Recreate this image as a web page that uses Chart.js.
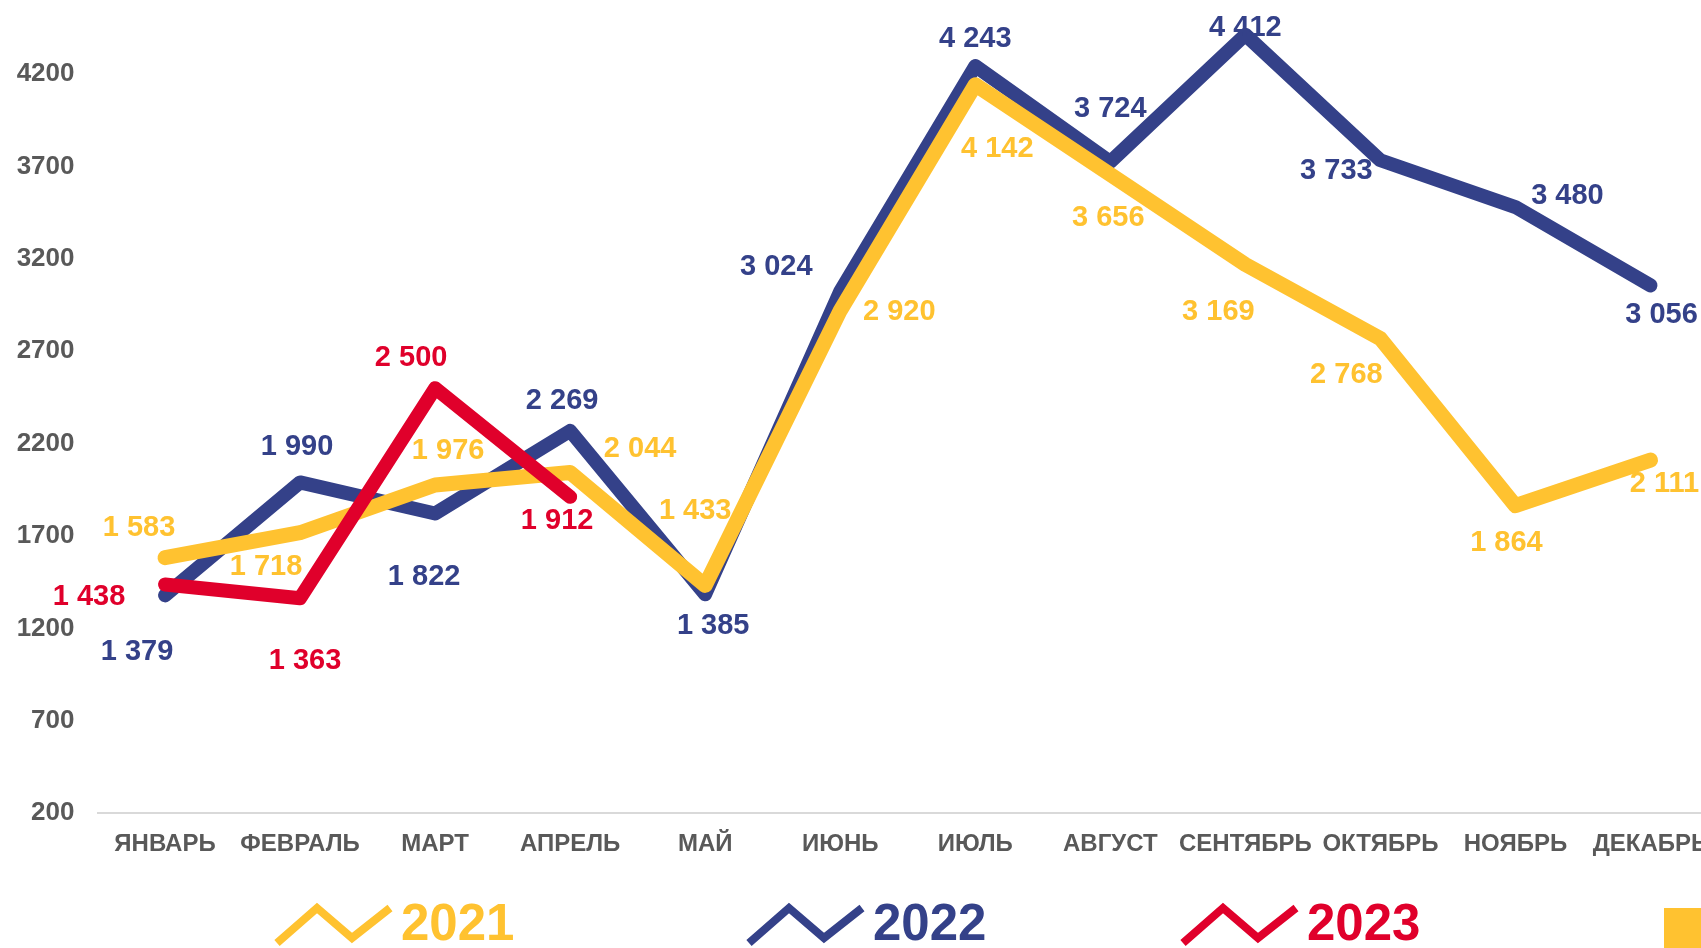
<!DOCTYPE html>
<html>
<head>
<meta charset="utf-8">
<script src="https://cdn.jsdelivr.net/npm/chart.js@4"></script>
<style>
    html, body { margin: 0; padding: 0; background: #fff; overflow: hidden; }
    #wrap { width: 1720px; height: 948px; }
</style>
</head>
<body>
<div id="wrap"><canvas id="prodazhi" width="1720" height="948"></canvas></div>
<script>
const months = ["ЯНВАРЬ", "ФЕВРАЛЬ", "МАРТ", "АПРЕЛЬ", "МАЙ", "ИЮНЬ", "ИЮЛЬ", "АВГУСТ", "СЕНТЯБРЬ", "ОКТЯБРЬ", "НОЯБРЬ", "ДЕКАБРЬ"];
const years = ["2021", "2022", "2023"];
const werte2021 = [1583, 1718, 1976, 2044, 1433, 2920, 4142, 3656, 3169, 2768, 1864, 2111];
const werte2022 = [1379, 1990, 1822, 2269, 1385, 3024, 4243, 3724, 4412, 3733, 3480, 3056];
const werte2023 = [1438, 1363, 2500, 1912];
const yTicks = [200, 700, 1200, 1700, 2200, 2700, 3200, 3700, 4200];

// wo die Werte-Beschriftung relativ zum Punkt sitzt (dx, dy in px)
const lage2021 = [[-26, -31], [-34, 33], [13, -35], [70, -24], [-10, -75], [59, 0], [22, 63], [-2, 43], [-27, 46], [-34, 35], [-9, 36], [14, 23]];
const lage2022 = [[-28, 56], [-3, -36], [-11, 63], [-8, -31], [8, 31], [-64, -25], [0, -28], [0, -54], [0, -8], [-44, 10], [52, -12], [11, 29]];
const lage2023 = [[-76, 12], [5, 62], [-24, -31], [-13, 23]];

const gelb = "#FFC230";
const blau = "#344189";
const rot = "#E0002B";
const grau = "#595959";
const schrift = "'Liberation Sans', Arial, sans-serif";

function tausender(v) {
    return String(v).replace(/\B(?=(\d{3})+(?!\d))/g, " ");
}

const werteLabels = {
    id: "werteLabels",
    afterDatasetsDraw(chart) {
        const ctx = chart.ctx;
        ctx.save();
        ctx.font = "bold 29px " + schrift;
        ctx.textAlign = "center";
        ctx.textBaseline = "middle";
        chart.data.datasets.forEach((ds, i) => {
            const meta = chart.getDatasetMeta(i);
            meta.data.forEach((pt, j) => {
                const off = ds.lage[j];
                ctx.fillStyle = ds.borderColor;
                ctx.fillText(tausender(ds.data[j]), pt.x + off[0], pt.y + off[1] + 1);
            });
        });
        ctx.restore();
    },
};

// Legende unten: Zickzack + Jahreszahl
const legendePos = [277, 749, 1183];
const zickzack = {
    id: "zickzack",
    afterDraw(chart) {
        const ctx = chart.ctx;
        ctx.save();
        chart.data.datasets.forEach((ds, i) => {
            const x0 = legendePos[i];
            ctx.strokeStyle = ds.borderColor;
            ctx.lineWidth = 8;
            ctx.lineJoin = "miter";
            ctx.beginPath();
            ctx.moveTo(x0, 943);
            ctx.lineTo(x0 + 40, 908);
            ctx.lineTo(x0 + 75, 938);
            ctx.lineTo(x0 + 113, 908);
            ctx.stroke();
            ctx.fillStyle = ds.borderColor;
            ctx.font = "bold 51px " + schrift;
            ctx.textAlign = "left";
            ctx.textBaseline = "alphabetic";
            ctx.fillText(ds.label, x0 + 124, 940);
        });
        // gelbes Quadrat rechts unten
        ctx.fillStyle = gelb;
        ctx.fillRect(1664, 908, 60, 40);
        ctx.restore();
    },
};

function linie(label, data, farbe, lage, order, breite) {
    return {
        label: label,
        data: data,
        lage: lage,
        order: order,
        borderColor: farbe,
        backgroundColor: farbe,
        borderWidth: breite,
        borderCapStyle: "round",
        borderJoinStyle: "round",
        pointRadius: 0,
        tension: 0,
        clip: false,
    };
}

new Chart(document.getElementById("prodazhi"), {
    type: "line",
    data: {
        labels: months,
        datasets: [
            linie(years[0], werte2021, gelb, lage2021, 2, 15),
            linie(years[1], werte2022, blau, lage2022, 3, 14),
            linie(years[2], werte2023, rot, lage2023, 1, 14),
        ],
    },
    options: {
        responsive: false,
        animation: false,
        layout: { padding: { top: 0, right: 2, left: 0, bottom: 0 } },
        plugins: {
            legend: { display: false },
            tooltip: { enabled: false },
        },
        scales: {
            x: {
                offset: true,
                grid: { display: false, drawTicks: false },
                border: { display: true, color: "#D9D9D9", width: 2 },
                ticks: {
                    color: grau,
                    padding: 17,
                    maxRotation: 0,
                    autoSkip: false,
                    font: { family: schrift, size: 24, weight: "bold" },
                },
                afterFit(scale) {
                    scale.height = 134.7;
                    scale.paddingLeft = 0;
                    scale.paddingRight = 0;
                },
            },
            y: {
                min: 200,
                max: 4600,
                grid: { display: false, drawTicks: false },
                border: { display: false },
                ticks: {
                    color: grau,
                    padding: 23,
                    font: { family: schrift, size: 26, weight: "bold" },
                    callback: (v) => String(v),
                },
                afterBuildTicks(scale) {
                    scale.ticks = yTicks.map((v) => ({ value: v }));
                },
                afterFit(scale) {
                    scale.width = 97.5;
                    scale.paddingTop = 0;
                    scale.paddingBottom = 0;
                },
            },
        },
    },
    plugins: [werteLabels, zickzack],
});
</script>
</body>
</html>
